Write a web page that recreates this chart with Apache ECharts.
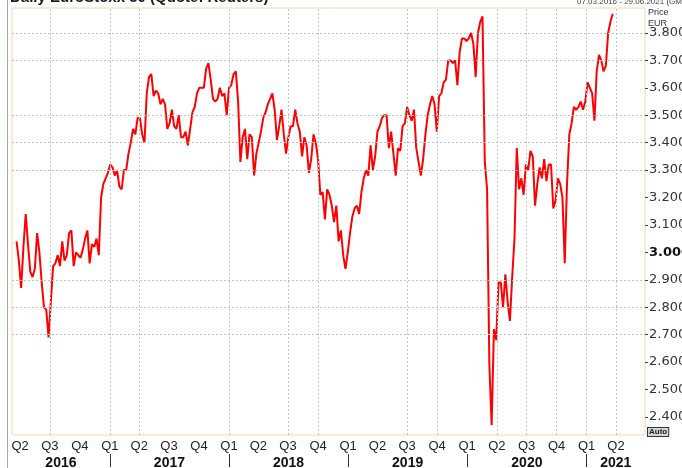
<!DOCTYPE html>
<html>
<head>
<meta charset="utf-8">
<script src="https://cdn.jsdelivr.net/npm/echarts@6/dist/echarts.min.js"></script>
<style>
  html, body { margin: 0; padding: 0; background: #fff; }
  #chart { width: 682px; height: 468px; }
</style>
</head>
<body>
<div id="chart"></div>
<script>
// weekly closes (thousand points), first week starts Mon 21.03.2016
var firstWeek = [2016, 2, 21];
var values2016 = [3.04, 2.97, 2.87, 3.02, 3.14, 3.03, 2.93, 2.91, 2.94, 3.07,
  3.00, 2.89, 2.80, 2.79, 2.69, 2.82, 2.95, 2.96, 2.99, 2.95,
  3.04, 2.97, 2.99, 3.07, 3.08, 2.95, 3.00, 2.99, 2.98, 3.01,
  3.05, 3.08, 2.96, 3.03, 3.02, 3.05, 2.99, 3.20, 3.25, 3.27, 3.29];
var values2017 = [3.32, 3.31, 3.28, 3.30, 3.24, 3.23, 3.30, 3.30, 3.36, 3.40,
  3.45, 3.43, 3.49, 3.49, 3.43, 3.40, 3.58, 3.64, 3.65, 3.57,
  3.59, 3.58, 3.54, 3.56, 3.54, 3.45, 3.47, 3.52, 3.46, 3.45,
  3.50, 3.42, 3.42, 3.44, 3.39, 3.45, 3.51, 3.53, 3.58, 3.60,
  3.60, 3.60, 3.67, 3.69, 3.63, 3.56, 3.55, 3.56, 3.60, 3.57, 3.58, 3.50];
var values2018 = [3.60, 3.61, 3.65, 3.66, 3.55, 3.33, 3.42, 3.45, 3.34, 3.43,
  3.42, 3.28, 3.36, 3.40, 3.44, 3.49, 3.51, 3.54, 3.56, 3.58,
  3.52, 3.41, 3.46, 3.52, 3.43, 3.36, 3.42, 3.46, 3.46, 3.52,
  3.47, 3.44, 3.35, 3.42, 3.39, 3.29, 3.34, 3.43, 3.40, 3.34,
  3.21, 3.22, 3.12, 3.23, 3.21, 3.17, 3.11, 3.17, 3.04, 3.08, 2.99, 2.94];
var values2019 = [3.00, 3.07, 3.13, 3.16, 3.17, 3.14, 3.22, 3.27, 3.30, 3.28,
  3.39, 3.30, 3.35, 3.44, 3.46, 3.49, 3.50, 3.50, 3.38, 3.44,
  3.36, 3.28, 3.38, 3.37, 3.46, 3.47, 3.53, 3.50, 3.48, 3.52,
  3.38, 3.33, 3.28, 3.34, 3.43, 3.50, 3.54, 3.57, 3.54, 3.44,
  3.57, 3.58, 3.62, 3.63, 3.70, 3.70, 3.69, 3.70, 3.61, 3.73, 3.78, 3.78];
var values2020 = [3.77, 3.78, 3.80, 3.76, 3.64, 3.80, 3.84, 3.86, 3.33, 3.23,
  2.59, 2.37, 2.72, 2.68, 2.89, 2.89, 2.80, 2.92, 2.82, 2.75,
  2.91, 3.05, 3.38, 3.23, 3.27, 3.21, 3.32, 3.30, 3.37, 3.35,
  3.17, 3.25, 3.31, 3.27, 3.34, 3.26, 3.32, 3.32, 3.16, 3.19,
  3.27, 3.25, 3.20, 2.96, 3.25, 3.43, 3.47, 3.53, 3.52, 3.53,
  3.55, 3.52, 3.55];
var values2021 = [3.62, 3.60, 3.58, 3.48, 3.66, 3.72, 3.70, 3.66, 3.68, 3.80, 3.84, 3.87];

var axisStart = [2016, 2, 7];
var axisEnd = [2021, 5, 29];
var priceTicks = [2.4, 2.5, 2.6, 2.7, 2.8, 2.9, 3.0, 3.1, 3.2, 3.3, 3.4, 3.5, 3.6, 3.7, 3.8];
var gridLevels = [3.8, 3.7, 3.5, 3.4, 3.3, 2.9, 2.8, 2.7];
var quarterStarts = ['2016-04', '2016-07', '2016-10', '2017-01', '2017-04', '2017-07', '2017-10',
  '2018-01', '2018-04', '2018-07', '2018-10', '2019-01', '2019-04', '2019-07', '2019-10',
  '2020-01', '2020-04', '2020-07', '2020-10', '2021-01', '2021-04'];
var gridQuarters = ['2016-07', '2017-01', '2017-04', '2018-01', '2018-07', '2018-10',
  '2019-07', '2019-10', '2020-04', '2020-07', '2020-10', '2021-01', '2021-04'];
var years = [2016, 2017, 2018, 2019, 2020, 2021];

function ym(s) { var p = s.split('-'); return new Date(+p[0], +p[1] - 1, 1).getTime(); }
var tMin = new Date(axisStart[0], axisStart[1], axisStart[2]).getTime();
var tMax = new Date(axisEnd[0], axisEnd[1], axisEnd[2]).getTime();

var allValues = [].concat(values2016, values2017, values2018, values2019, values2020, values2021);
var seriesData = allValues.map(function (v, i) {
  return [new Date(firstWeek[0], firstWeek[1], firstWeek[2] + 7 * i).getTime(), v];
});

var yearStarts = years.slice(1).map(function (y) { return new Date(y, 0, 1).getTime(); });
var yearMids = years.map(function (y) {
  var a = Math.max(new Date(y, 0, 1).getTime(), tMin);
  var b = Math.min(new Date(y + 1, 0, 1).getTime(), tMax);
  return (a + b) / 2;
});

var font = 'Liberation Sans, Arial, sans-serif';
var chart = echarts.init(document.getElementById('chart'));

var option = {
  animation: false,
  title: {
    text: 'Daily EuroStoxx 50 (Quote: Reuters)',
    left: 10, top: -10, padding: 0,
    textStyle: { fontFamily: font, fontSize: 15, fontWeight: 'bold', color: '#1a1a1a' }
  },
  grid: {
    left: 12, right: 37, top: 8, bottom: 33,
    show: true, borderColor: '#fcd2a6', borderWidth: 1, backgroundColor: '#fff',
    outerBoundsMode: 'none', containLabel: false
  },
  xAxis: [{
    type: 'value', min: tMin, max: tMax,
    axisLine: { show: false }, axisTick: { show: false }, splitLine: { show: false },
    axisLabel: {
      customValues: quarterStarts.map(ym), hideOverlap: false,
      formatter: function (v) { return 'Q' + (Math.floor(new Date(v).getMonth() / 3) + 1); },
      color: '#222', fontFamily: font, fontSize: 13, margin: 5
    }
  }, {
    type: 'value', min: tMin, max: tMax, position: 'bottom', offset: 19,
    axisLine: { show: false }, splitLine: { show: false },
    axisTick: { show: true, customValues: yearStarts, length: 13, lineStyle: { color: '#333', width: 1 } },
    axisLabel: {
      customValues: yearMids, hideOverlap: false,
      formatter: function (v) { return String(new Date(v).getFullYear()); },
      color: '#111', fontFamily: font, fontSize: 14, fontWeight: 'bold', margin: 2
    }
  }],
  yAxis: {
    type: 'value', position: 'right', min: 2.334, max: 3.891,
    axisLine: { show: false }, splitLine: { show: false },
    axisTick: { show: true, customValues: priceTicks, length: 3, lineStyle: { color: '#444' } },
    axisLabel: {
      customValues: priceTicks, margin: 4, hideOverlap: false,
      color: '#333', fontFamily: 'DejaVu Sans, sans-serif', fontSize: 13,
      formatter: function (v) {
        var s = v.toFixed(3);
        return Math.abs(v - 3) < 1e-9 ? '{b|' + s + '}' : s;
      },
      rich: { b: { fontWeight: 'bold', color: '#111', fontFamily: 'DejaVu Sans, sans-serif', fontSize: 13 } }
    }
  },
  series: [{
    // grid lines
    type: 'line', data: seriesData, silent: true, z: 1,
    showSymbol: false, lineStyle: { opacity: 0 },
    markLine: {
      silent: true, symbol: 'none', label: { show: false },
      lineStyle: { color: '#c2c2c2', type: [2, 2], width: 1 },
      data: gridLevels.map(function (v) { return { yAxis: v }; })
        .concat(gridQuarters.map(function (q) { return { xAxis: ym(q) }; }))
    }
  }, {
    type: 'line', data: seriesData, z: 3,
    showSymbol: false, symbol: 'none',
    lineStyle: { color: '#ff0000', width: 2 }
  }],
  graphic: [
    { type: 'line', shape: { x1: 7.5, y1: 0, x2: 7.5, y2: 468 }, style: { stroke: '#a6a6a6', lineWidth: 1 } },
    { type: 'text', left: 577, top: -2, style: { text: '07.03.2016 - 29.06.2021 (GMT)', fontSize: 8, fontFamily: font, fill: '#444' } },
    { type: 'text', left: 648, top: 8, style: { text: 'Price', fontSize: 9, fontFamily: font, fill: '#333' } },
    { type: 'text', left: 648, top: 19, style: { text: 'EUR', fontSize: 9, fontFamily: font, fill: '#333' } },
    { type: 'text', left: 647, top: 427, style: { text: 'Auto', fontSize: 8, fontFamily: font, fontWeight: 'bold', fill: '#222', backgroundColor: '#d4d4d4', borderColor: '#333', borderWidth: 1, padding: [0, 1] } }
  ]
};
chart.setOption(option);
</script>
</body>
</html>
